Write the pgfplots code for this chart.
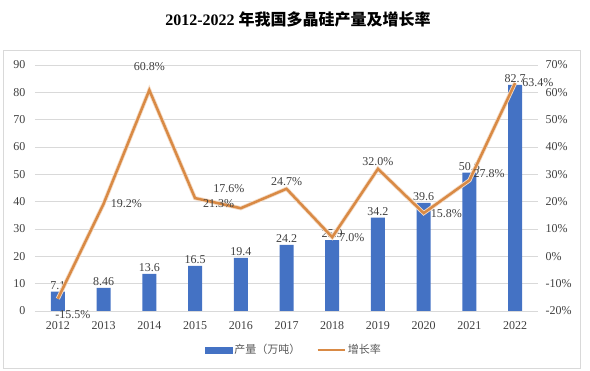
\documentclass[border=0pt]{standalone}
\usepackage{pgfplots}
\pgfplotsset{compat=1.18}
\usepackage{fontspec}
\setmainfont{Liberation Serif}
\newfontfamily\cjk{Noto Sans CJK SC}
\definecolor{barblue}{HTML}{4472C4}
\definecolor{lineorange}{HTML}{D98A45}
\definecolor{txt}{HTML}{404040}
\definecolor{gridc}{HTML}{D9D9D9}
\definecolor{legtxt}{HTML}{595959}

\pgfplotstableread{
x prod rate
0 7.1 -15.5
1 8.46 19.2
2 13.6 60.8
3 16.5 21.3
4 19.4 17.6
5 24.2 24.7
6 25.9 7.0
7 34.2 32.0
8 39.6 15.8
9 50.6 27.8
10 82.7 63.4
}\datatable

\pgfplotsset{
  common/.style={
    at={(35pt,60pt)}, anchor=south west,
    width=503pt, height=246pt, scale only axis,
    xmin=-0.5, xmax=10.5,
    major tick length=0pt,
    tick label style={font=\fontsize{12}{14}\selectfont, text=txt},
    /pgf/number format/assume math mode=true,
  },
  pctlab/.style={draw=none, forget plot, nodes near coords={\pgfmathprintnumber[fixed,fixed zerofill,precision=1]{\pgfplotspointmeta}\%},
    point meta=y, nodes near coords style={font=\fontsize{12}{14}\selectfont, text=txt, inner sep=1pt}},
}

\begin{document}
\begin{tikzpicture}
\useasboundingbox (0pt,0pt) rectangle (590pt,371pt);
\draw[gridc] (3pt,3pt) rectangle (580pt,321pt);
\node[font=\fontsize{16}{19}\selectfont\bfseries] at (298pt,351pt) {2012-2022 {\cjk\bfseries 年我国多晶硅产量及增长率}};

\begin{axis}[common,
  ymin=0, ymax=90, ytick={0,10,...,90},
  xtick={0,...,10},
  xticklabels={2012,2013,2014,2015,2016,2017,2018,2019,2020,2021,2022},
  axis y line*=left, y axis line style={draw=none},
  axis x line*=bottom, x axis line style={gridc, line width=0.8pt},
  ymajorgrids, grid style={gridc, line width=0.6pt},
  yticklabel style={xshift=-6pt},
  xticklabel style={yshift=-7pt},
]
\addplot[ybar, bar width=14pt, fill=barblue, draw=none,
  nodes near coords, nodes near coords style={font=\fontsize{12}{14}\selectfont, text=txt, inner sep=2pt}]
  table[x=x, y=prod] {\datatable};
\end{axis}

\begin{axis}[common,
  ymin=-20, ymax=70, ytick={-20,-10,...,70},
  yticklabel={\pgfmathprintnumber{\tick}\%},
  axis y line*=right, y axis line style={draw=none},
  axis x line=none,
  yticklabel style={xshift=4pt},
  legend style={at={(0.515,-0.1585)}, anchor=center, draw=none, fill=none,
    font=\fontsize{11}{13}\selectfont, text=legtxt, legend columns=2,
    /tikz/every even column/.append style={column sep=14pt}},
]
\addlegendimage{legend image code/.code={\fill[barblue] (0pt,-3pt) rectangle (27pt,3pt);}}
\addlegendentry{\cjk 产量（万吨）}
\addplot[lineorange!30, line width=4.2pt, forget plot] table[x=x, y=rate] {\datatable};
\addplot[lineorange, line width=2.5pt, legend image code/.code={\draw[lineorange, line width=2.5pt] (0pt,0pt) -- (27pt,0pt);}] table[x=x, y=rate] {\datatable};
\addlegendentry{\cjk 增长率}
% labels to the right
\addplot[pctlab, nodes near coords style={anchor=west, xshift=6pt}] coordinates {(1,19.2) (6,7.0) (8,15.8) (10,63.4)};
\addplot[pctlab, nodes near coords style={anchor=west, xshift=7pt, yshift=-5pt}] coordinates {(3,21.3)};
\addplot[pctlab, nodes near coords style={anchor=west, xshift=3pt, yshift=7pt}] coordinates {(9,27.8)};
% labels above
\addplot[pctlab, nodes near coords style={anchor=south, yshift=2pt}] coordinates {(5,24.7) (7,32.0)};
\addplot[pctlab, nodes near coords style={anchor=south, yshift=18pt}] coordinates {(2,60.8)};
\addplot[pctlab, nodes near coords style={anchor=south, xshift=-12pt, yshift=14pt}] coordinates {(4,17.6)};
% label below
\addplot[pctlab, nodes near coords style={anchor=north, xshift=15pt, yshift=-11pt}] coordinates {(0,-15.5)};
\end{axis}
\end{tikzpicture}
\end{document}
